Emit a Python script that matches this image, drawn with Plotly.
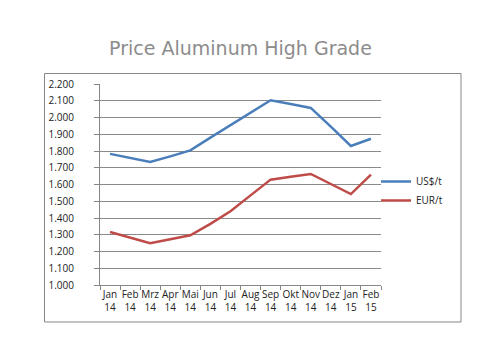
import plotly.graph_objects as go

months = ["Jan<br>14", "Feb<br>14", "Mrz<br>14", "Apr<br>14", "Mai<br>14", "Jun<br>14", "Jul<br>14",
          "Aug<br>14", "Sep<br>14", "Okt<br>14", "Nov<br>14", "Dez<br>14", "Jan<br>15", "Feb<br>15"]
usd = [1783, 1758, 1734, 1768, 1804, 1880, 1955, 2030, 2103, 2080, 2057, 1945, 1830, 1873]
eur = [1316, 1283, 1249, 1273, 1297, 1365, 1440, 1535, 1629, 1646, 1663, 1603, 1543, 1659]
yticks = [1000, 1100, 1200, 1300, 1400, 1500, 1600, 1700, 1800, 1900, 2000, 2100, 2200]

W, H = 500, 362
L, R, T, B = 92, 127, 76, 85
pw, ph = W - L - R, H - T - B

fig = go.Figure()
fig.add_trace(go.Scatter(x=months, y=usd, mode="lines", name="US$/t",
                         line=dict(color="#4a7ebb", width=2.5)))
fig.add_trace(go.Scatter(x=months, y=eur, mode="lines", name="EUR/t",
                         line=dict(color="#be4b48", width=2.5)))

def px(x):
    return (x - L) / pw

def py(y):
    return (H - B - y) / ph

fig.update_layout(
    width=W, height=H,
    margin=dict(l=L, r=R, t=T, b=B),
    paper_bgcolor="white", plot_bgcolor="white",
    separators=",.",
    font=dict(family="Open Sans, Liberation Sans, sans-serif", size=10, color="#222"),
    title=dict(text="Price Aluminum High Grade", x=0.5, xref="paper", xanchor="center",
               y=1 - 40 / H, yanchor="middle", yref="container",
               font=dict(family="DejaVu Sans, sans-serif", size=19, color="#8c8c8c")),
    showlegend=True,
    legend=dict(x=px(368), y=py(159), xanchor="left", yanchor="top",
                bgcolor="rgba(0,0,0,0)", font=dict(size=10, color="#222"),
                itemwidth=30),
    xaxis=dict(type="category", range=[-0.5, 13.5], showgrid=False, showline=True,
               linecolor="#868686", linewidth=1, ticks="outside", ticklen=4,
               tickcolor="#868686", tickson="boundaries", tickangle=0,
               tickfont=dict(size=10), zeroline=False, fixedrange=True),
    yaxis=dict(range=[1000, 2200], tickvals=yticks, tickformat=",d", showgrid=True,
               gridcolor="#8a8a8a", gridwidth=1, showline=True, linecolor="#868686",
               ticks="outside", ticklen=5, tickcolor="#868686", zeroline=False,
               ticklabelstandoff=18, tickfont=dict(size=10), fixedrange=True),
    shapes=[dict(type="rect", xref="paper", yref="paper",
                 x0=px(36.5), x1=px(453), y0=py(314), y1=py(65.5),
                 line=dict(color="#868686", width=1), fillcolor="rgba(0,0,0,0)",
                 layer="below")],
)

fig.write_html("out.html")
